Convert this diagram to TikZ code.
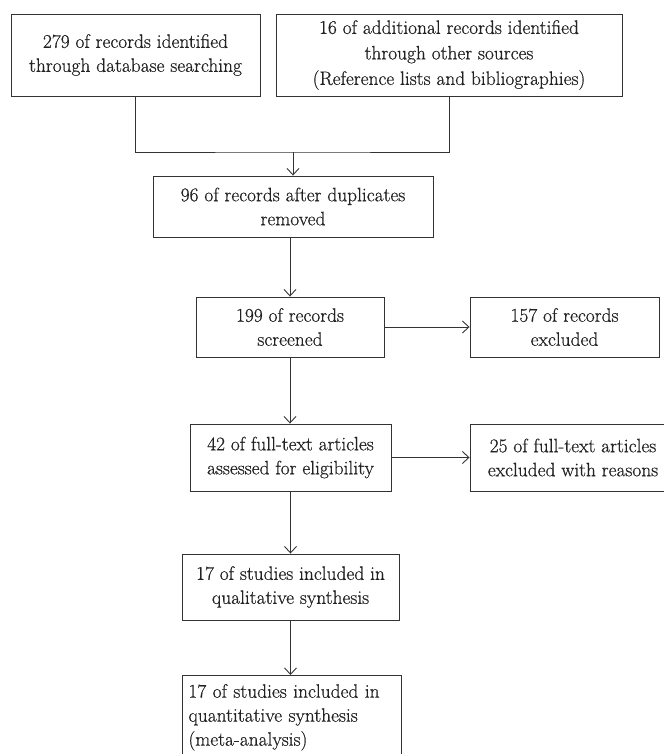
\documentclass[tikz,border=0pt]{standalone}
\usepackage{fontspec}
\setmainfont{Latin Modern Roman}[FakeBold=0.6]
\usetikzlibrary{arrows.meta}
\definecolor{ink}{HTML}{333333}
\definecolor{txt}{HTML}{222222}
\begin{document}
\begin{tikzpicture}[x=1bp,y=-1bp,
  box/.style={draw=ink, line width=0.9bp, text=txt, align=center, inner sep=0pt,
    font=\fontsize{19.4bp}{24bp}\selectfont},
  conn/.style={draw=ink, line width=0.9bp},
  arr/.style={conn, -{Straight Barb[length=6.5bp,width=12bp]}}]
\useasboundingbox (0,0) rectangle (664,754);
\clip (0,0) rectangle (664,754);
\node[box, minimum width=249bp, minimum height=82bp] (b1) at (135.5,55)
  {279 of records identified\\through database searching};
\node[box, minimum width=346bp, minimum height=82bp,
  font=\fontsize{19.4bp}{25.5bp}\selectfont] (b2) at (449,55)
  {16 of additional records identified\\through other sources\\(Reference lists and bibliographies)};
\node[box, minimum width=280bp, minimum height=61bp] (b3) at (293,206.5)
  {96 of records after duplicates\\removed};
\node[box, minimum width=188bp, minimum height=60bp] (b4) at (290,327)
  {199 of records\\screened};
\node[box, minimum width=189bp, minimum height=60bp] (b5) at (564.5,327)
  {157 of records\\excluded};
\node[box, minimum width=201bp, minimum height=67bp] (b6) at (290.5,457.5)
  {42 of full-text articles\\assessed for eligibility};
\node[box, minimum width=206bp, minimum height=67bp] (b7) at (573,457.5)
  {25 of full-text articles\\excluded with reasons};
\node[box, minimum width=217bp, minimum height=66bp] (b8) at (290.5,587)
  {17 of studies included in\\qualitative synthesis};
\node[box, align=left, anchor=north west, text width=207bp, inner xsep=6bp,
  inner ysep=8.6bp] (b9) at (182,675)
  {17 of studies included in\\quantitative synthesis\\(meta-analysis)\\ \mbox{}};
\coordinate (j) at (293,152);
\draw[conn] (b1.south) |- (j) -| (b2.south);
\draw[arr] (j) -- (b3.north);
\draw[arr] (b4.north |- b3.south) -- (b4.north);
\draw[arr] (b4.east) -- (b5.west);
\draw[arr] (b4.south) -- (b4.south |- b6.north);
\draw[arr] (b6.east) -- (b7.west);
\draw[arr] (b6.south) -- (b6.south |- b8.north);
\draw[arr] (b8.south) -- (b8.south |- b9.north);
\end{tikzpicture}
\end{document}
